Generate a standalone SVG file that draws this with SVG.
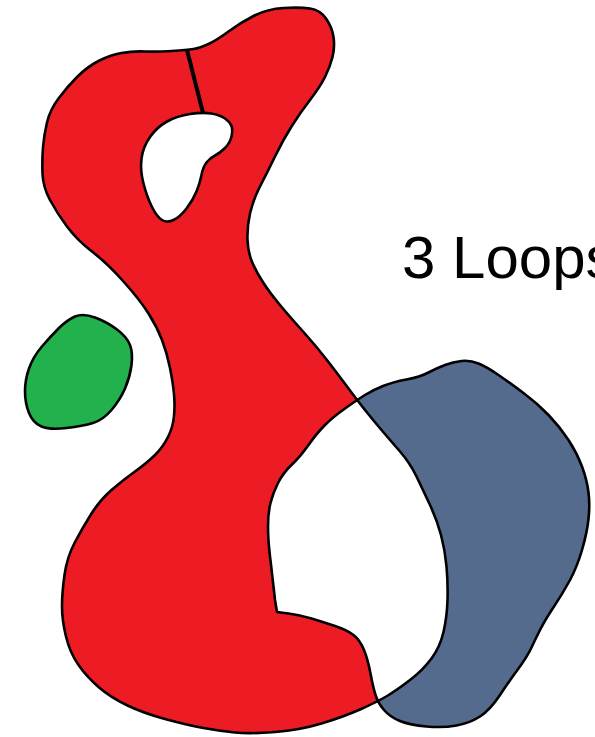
<svg xmlns="http://www.w3.org/2000/svg" xmlns:xlink="http://www.w3.org/1999/xlink" width="595" height="737" viewBox="0 0 595 737">
<style>
.ln{fill:none;stroke:#000;stroke-width:2.6;stroke-linejoin:round;stroke-linecap:round}
.lbl{font-family:"Liberation Sans",Arial,sans-serif;font-size:60px;fill:#000}
</style>
<defs>
<path id="A" d="M172,51 Q187,50 193.5,49 Q200,48 208.5,44 Q217,40 228.5,31.5 Q240,23 253.5,16 Q267,9 283.5,8 Q300,7 310,8.5 Q320,10 326,18.5 Q332,27 333.5,37 Q335,47 332.5,57 Q330,67 325,77 Q320,87 310,100 Q300,113 291.5,126.5 Q283,140 275,156.5 Q267,173 260,186.5 Q253,200 250,213.5 Q247,227 247.5,240 Q248,253 252.5,263 Q257,273 263.5,283 Q270,293 280,305 Q290,317 303.5,332 Q317,347 328.5,362 Q340,377 348.5,388.5 Q357,400 365,410 Q373,420 381.5,430 Q390,440 400,451.5 Q410,463 416.5,476.5 Q423,490 430,505 Q437,520 441,535 Q445,550 446.5,566.5 Q448,583 447.5,600 Q447,617 443.5,632 Q440,647 431.5,658.5 Q423,670 410,680 Q397,690 387,696 Q377,702 360,709.5 Q343,717 321.5,723.5 Q300,730 275,732 Q250,734 235,732.5 Q220,731 203.5,728 Q187,725 165,719 Q143,713 126.5,705 Q110,697 98.5,687 Q87,677 78.5,665 Q70,653 66,636.5 Q62,620 62,606.5 Q62,593 64.5,575 Q67,557 75,542 Q83,527 91.5,513.5 Q100,500 111.5,490 Q123,480 135,471.5 Q147,463 155,455 Q163,447 168,437 Q173,427 174,416 Q175,405 174,394 Q173,383 170,368 Q167,353 162,340 Q157,327 148.5,313.5 Q140,300 123.5,281.5 Q107,263 92,251.5 Q77,240 67,226.5 Q57,213 50,200 Q43,187 42.5,173.5 Q42,160 43,147.5 Q44,135 47,122.5 Q50,110 58.5,98.5 Q67,87 77,77 Q87,67 98.5,61 Q110,55 121.5,53 Q133,51 145,51.5 Q157,52 172,51 Z"/>
<path id="B" d="M345,408.5 Q357,400 365,395 Q373,390 383,386 Q393,382 406.5,379.5 Q420,377 428.5,372.5 Q437,368 445,365 Q453,362 461.5,361 Q470,360 478.5,363.5 Q487,367 498.5,375 Q510,383 523.5,393 Q537,403 548.5,415 Q560,427 568.5,440 Q577,453 582,466.5 Q587,480 588.5,492.5 Q590,505 588.5,519 Q587,533 582,550 Q577,567 570,580 Q563,593 554,606.5 Q545,620 540,630 Q535,640 531,648.5 Q527,657 518.5,668.5 Q510,680 500,695 Q490,710 480,716.5 Q470,723 456.5,725.5 Q443,728 426.5,726.5 Q410,725 400,721 Q390,717 384,710 Q378,703 375.5,695 Q373,687 370.5,673.5 Q368,660 364,650 Q360,640 353.5,635 Q347,630 335,626 Q323,622 311.5,618.5 Q300,615 288.5,613.5 L277,612 L275,600 Q272,573 270,556.5 Q268,540 268,526.5 Q268,513 270.5,503 Q273,493 278,483 Q283,473 291.5,465 Q300,457 308.5,445 Q317,433 325,425 Q333,417 345,408.5 Z"/>
<clipPath id="clipA"><use xlink:href="#A"/></clipPath>
</defs>
<g id="loop-red">
<use xlink:href="#A" fill="#ED1C24"/>
</g>
<g id="loop-blue">
<use xlink:href="#B" fill="#556B8D"/>
<use xlink:href="#B" fill="#FFFFFF" clip-path="url(#clipA)"/>
</g>
<g id="outlines">
<use xlink:href="#A" class="ln"/>
<use xlink:href="#B" class="ln"/>
</g>
<g id="hole">
<path class="ln" fill="#FFFFFF" style="fill:#FFFFFF" d="M190,114 Q203,112 211.5,113.5 Q220,115 225,118.5 Q230,122 231.5,126 Q233,130 231.5,136.5 Q230,143 225,148 Q220,153 215,155.5 Q210,158 206.5,162.5 Q203,167 201.5,175 Q200,183 196.5,191.5 Q193,200 186.5,208.5 Q180,217 173.5,220 Q167,223 162,220 Q157,217 152,207 Q147,197 143.5,183.5 Q140,170 141.5,158.5 Q143,147 150,137 Q157,127 167,121.5 Q177,116 190,114 Z"/>
</g>
<g id="cut">
<line x1="187" y1="50" x2="203" y2="113" stroke="#000" stroke-width="4"/>
</g>
<g id="loop-green">
<path class="ln" style="fill:#22B14C" d="M75,316.5 Q83,313 95,317.5 Q107,322 117,329.5 Q127,337 130,345 Q133,353 131.5,365 Q130,377 125,388.5 Q120,400 111.5,410 Q103,420 93,423 Q83,426 66.5,428 Q50,430 41.5,426.5 Q33,423 29,413 Q25,403 25,391.5 Q25,380 29,368.5 Q33,357 41.5,347 Q50,337 58.5,328.5 Q67,320 75,316.5 Z"/>
</g>
<g id="label">
<text class="lbl" x="402" y="278">3 Loops</text>
</g>
</svg>
